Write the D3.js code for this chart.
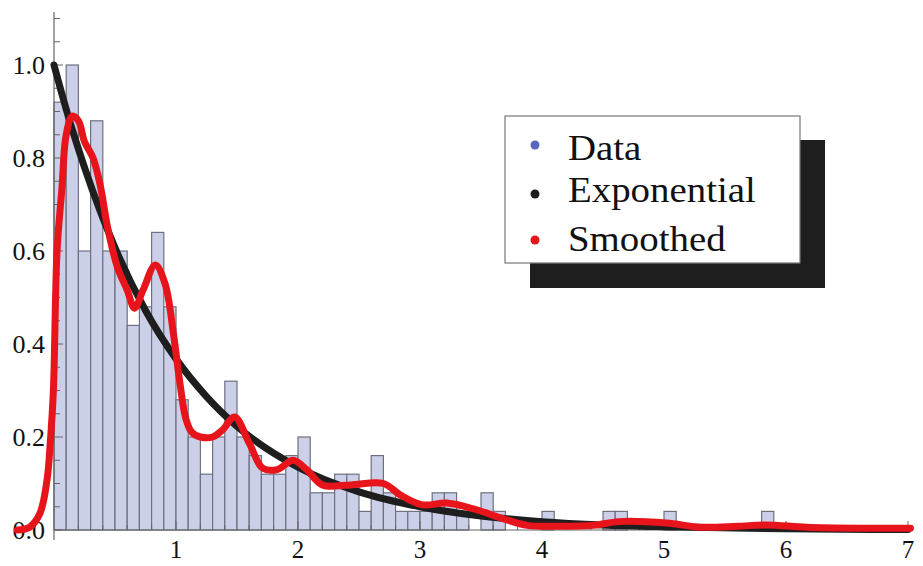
<!DOCTYPE html>
<html>
<head>
<meta charset="utf-8">
<script src="https://cdn.jsdelivr.net/npm/d3@7"></script>
<style>
  html, body { margin: 0; padding: 0; background: #fff; }
  svg { display: block; }
  text { font-family: "Liberation Serif", "Times New Roman", serif; }
</style>
</head>
<body>
<svg id="chart" width="923" height="566"></svg>
<script>
// Histogram of the sample: density per bin of width 0.1, starting at 0
const binWidth = 0.1;
const binDensity = [
  0.92, 1.00, 0.60, 0.88, 0.60, 0.60, 0.44, 0.48, 0.64, 0.48,
  0.28, 0.20, 0.12, 0.20, 0.32, 0.20, 0.16, 0.12, 0.12, 0.16,
  0.20, 0.08, 0.08, 0.12, 0.12, 0.04, 0.16, 0.08, 0.04, 0.04,
  0.04, 0.08, 0.08, 0.04, 0.00, 0.08, 0.04, 0.00, 0.00, 0.00,
  0.04, 0.00, 0.00, 0.00, 0.00, 0.04, 0.04, 0.00, 0.00, 0.00,
  0.04, 0.00, 0.00, 0.00, 0.00, 0.00, 0.00, 0.00, 0.04
];

// Fitted exponential density
const expX = [0, 0.1, 0.25, 0.5, 0.75, 1, 1.25, 1.5, 2, 2.5, 3, 3.5, 4, 4.5, 5, 6, 7];
const expY = [1.0, 0.905, 0.78, 0.607, 0.472, 0.368, 0.287, 0.223, 0.135, 0.082, 0.05, 0.03, 0.018, 0.011, 0.007, 0.0025, 0.001];

// Kernel-smoothed density
const smoothX = [-0.3, -0.2, -0.115, -0.057, -0.03, -0.005, 0.025, 0.065, 0.1, 0.15, 0.2, 0.25, 0.32, 0.38, 0.44,
  0.52, 0.6, 0.66, 0.73, 0.83, 0.91, 0.98, 1.03, 1.08, 1.13, 1.2, 1.3, 1.38, 1.48, 1.6, 1.71, 1.83, 1.96, 2.07,
  2.2, 2.43, 2.7, 2.84, 3.02, 3.22, 3.47, 3.66, 3.88, 4.1, 4.42, 4.63, 5.02, 5.3, 5.6, 5.84, 6.17, 6.6, 7.02];
const smoothY = [0.0, 0.006, 0.036, 0.108, 0.19, 0.3, 0.6, 0.735, 0.85, 0.89, 0.88, 0.835, 0.8, 0.74, 0.65,
  0.565, 0.516, 0.477, 0.516, 0.57, 0.53, 0.42, 0.32, 0.24, 0.21, 0.2, 0.2, 0.215, 0.243, 0.187, 0.133, 0.13, 0.15, 0.13,
  0.097, 0.097, 0.1, 0.075, 0.054, 0.058, 0.043, 0.026, 0.01, 0.008, 0.01, 0.018, 0.015, 0.006, 0.008, 0.011, 0.006, 0.004, 0.004];

const legendLabels = ["Data", "Exponential", "Smoothed"];
const legendColors = ["#5b66bb", "#1e1e1e", "#e8141c"];

const xTicks = [1, 2, 3, 4, 5, 6, 7];
const yTicks = [0.0, 0.2, 0.4, 0.6, 0.8, 1.0];

const svg = d3.select("#chart");
const x = d3.scaleLinear().domain([0, 7]).range([54, 908]);
const y = d3.scaleLinear().domain([0, 1]).range([530, 65]);

const axisColor = "#666";

// Bars
const bins = binDensity.map((v, i) => ({ x0: i * binWidth, x1: (i + 1) * binWidth, v }))
  .filter(d => d.v > 0);
svg.append("g").selectAll("rect").data(bins).join("rect")
  .attr("x", d => x(d.x0))
  .attr("y", d => y(d.v))
  .attr("width", d => x(d.x1) - x(d.x0))
  .attr("height", d => y(0) - y(d.v))
  .attr("fill", "#cbd0e8")
  .attr("stroke", "#6e7080")
  .attr("stroke-width", 1.2);

// Axes (ticks point inward)
const gx = svg.append("g").attr("transform", `translate(0,${y(0)})`);
gx.append("line").attr("x1", x(0)).attr("x2", x(7)).attr("stroke", axisColor).attr("stroke-width", 1.2);
const xMinor = d3.range(1, 36).map(i => i * 0.2).filter(v => Math.abs(v - Math.round(v)) > 1e-6);
gx.selectAll(".xminor").data(xMinor).join("line")
  .attr("x1", d => x(d)).attr("x2", d => x(d)).attr("y1", 0).attr("y2", -5)
  .attr("stroke", axisColor).attr("stroke-width", 1);
gx.selectAll(".xmajor").data(xTicks).join("line")
  .attr("x1", d => x(d)).attr("x2", d => x(d)).attr("y1", 0).attr("y2", -9)
  .attr("stroke", axisColor).attr("stroke-width", 1);
gx.selectAll("text").data(xTicks).join("text")
  .attr("x", d => x(d)).attr("y", 28)
  .attr("text-anchor", "middle")
  .attr("font-size", 25).attr("fill", "#111")
  .text(d => d3.format("d")(d));

const gy = svg.append("g").attr("transform", `translate(${x(0)},0)`);
gy.append("line").attr("y1", 12).attr("y2", 540).attr("stroke", axisColor).attr("stroke-width", 1.2);
const yMinor = d3.range(1, 23).map(i => i * 0.05).filter(v => Math.abs(v * 5 - Math.round(v * 5)) > 1e-6);
gy.selectAll(".yminor").data(yMinor).join("line")
  .attr("y1", d => y(d)).attr("y2", d => y(d)).attr("x1", 0).attr("x2", 6)
  .attr("stroke", axisColor).attr("stroke-width", 1);
gy.selectAll(".ymajor").data(yTicks).join("line")
  .attr("y1", d => y(d)).attr("y2", d => y(d)).attr("x1", 0).attr("x2", 9)
  .attr("stroke", axisColor).attr("stroke-width", 1);
gy.selectAll("text").data(yTicks).join("text")
  .attr("x", -9).attr("y", d => y(d)).attr("dy", "0.35em")
  .attr("text-anchor", "end")
  .attr("font-size", 26).attr("fill", "#111")
  .text(d => d3.format(".1f")(d));

// Exponential fit
const line = d3.line().x(d => x(d[0])).y(d => y(d[1])).curve(d3.curveMonotoneX);
svg.append("path")
  .datum(expX.map((v, i) => [v, expY[i]]))
  .attr("d", line)
  .attr("fill", "none").attr("stroke", "#1e1e1e").attr("stroke-width", 7)
  .attr("stroke-linecap", "round");

// Smoothed density
const smoothLine = d3.line().x(d => x(d[0])).y(d => y(d[1])).curve(d3.curveCatmullRom.alpha(0.5));
svg.append("path")
  .datum(smoothX.map((v, i) => [v, smoothY[i]]))
  .attr("d", smoothLine)
  .attr("fill", "none").attr("stroke", "#e8141c").attr("stroke-width", 7)
  .attr("stroke-linecap", "round").attr("stroke-linejoin", "round");

// Legend with drop shadow
const lg = svg.append("g");
lg.append("rect").attr("x", 530).attr("y", 140).attr("width", 295).attr("height", 148).attr("fill", "#1e1e1e");
lg.append("rect").attr("x", 505).attr("y", 116).attr("width", 295).attr("height", 147)
  .attr("fill", "#fff").attr("stroke", "#777").attr("stroke-width", 1.2);
const dotY = [145, 194, 240];
const textY = [160, 202, 251];
legendLabels.forEach((lab, i) => {
  lg.append("circle").attr("cx", 535).attr("cy", dotY[i]).attr("r", 4.5).attr("fill", legendColors[i]);
  lg.append("text")
    .attr("transform", `translate(568,${textY[i]}) scale(1.08,1)`)
    .attr("font-size", 36).attr("fill", "#111").text(lab);
});
</script>
</body>
</html>
